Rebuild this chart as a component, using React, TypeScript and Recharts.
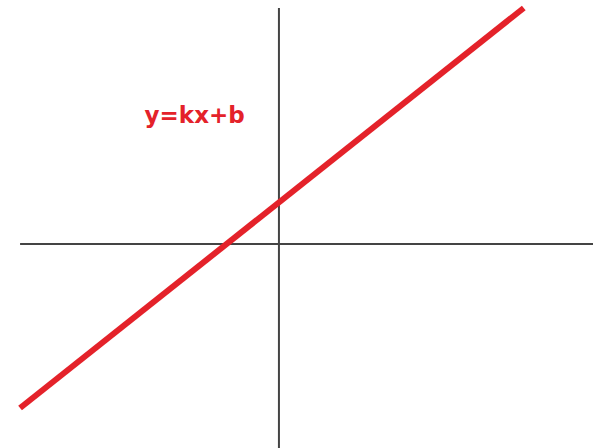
import { Line, LineChart, ReferenceDot, ReferenceLine, XAxis, YAxis } from 'recharts';

// endpoints of the drawn line y = kx + b
const lineX = [-12.9, 12.2];
const lineY = [-8.2, 11.8];

// visible extent of the coordinate axes
const xAxisSpan = [-12.9, 15.65];
const yAxisSpan = [-10.2, 11.8];

const xDomain = [-13.9, 15.65];
const yDomain = [-10.2, 12.2];

const label = 'y=kx+b';
const labelAt = { x: -4.2, y: 6.45 };

const points = lineX.map((x, i) => ({ x, y: lineY[i] }));

export default function App() {
  return (
    <div style={{ position: 'fixed', top: 0, left: 0, background: '#fff' }}>
      <LineChart width={593} height={448} data={points} margin={{ top: 0, right: 0, bottom: 0, left: 0 }}>
        <XAxis type="number" dataKey="x" domain={xDomain} allowDataOverflow hide />
        <YAxis type="number" domain={yDomain} allowDataOverflow hide />
        <ReferenceLine
          segment={[{ x: xAxisSpan[0], y: 0 }, { x: xAxisSpan[1], y: 0 }]}
          stroke="#444"
          strokeWidth={2}
        />
        <ReferenceLine
          segment={[{ x: 0, y: yAxisSpan[0] }, { x: 0, y: yAxisSpan[1] }]}
          stroke="#444"
          strokeWidth={2}
        />
        <Line
          type="linear"
          dataKey="y"
          stroke="#e4222a"
          strokeWidth={6}
          strokeLinecap="butt"
          strokeDasharray="none"
          dot={false}
          activeDot={false}
          isAnimationActive={false}
        />
        <ReferenceDot
          x={labelAt.x}
          y={labelAt.y}
          r={0}
          label={{
            value: label,
            position: 'center',
            fill: '#e4222a',
            fontSize: 23,
            fontWeight: 'bold',
            fontFamily: 'DejaVu Sans, sans-serif',
          }}
        />
      </LineChart>
    </div>
  );
}
